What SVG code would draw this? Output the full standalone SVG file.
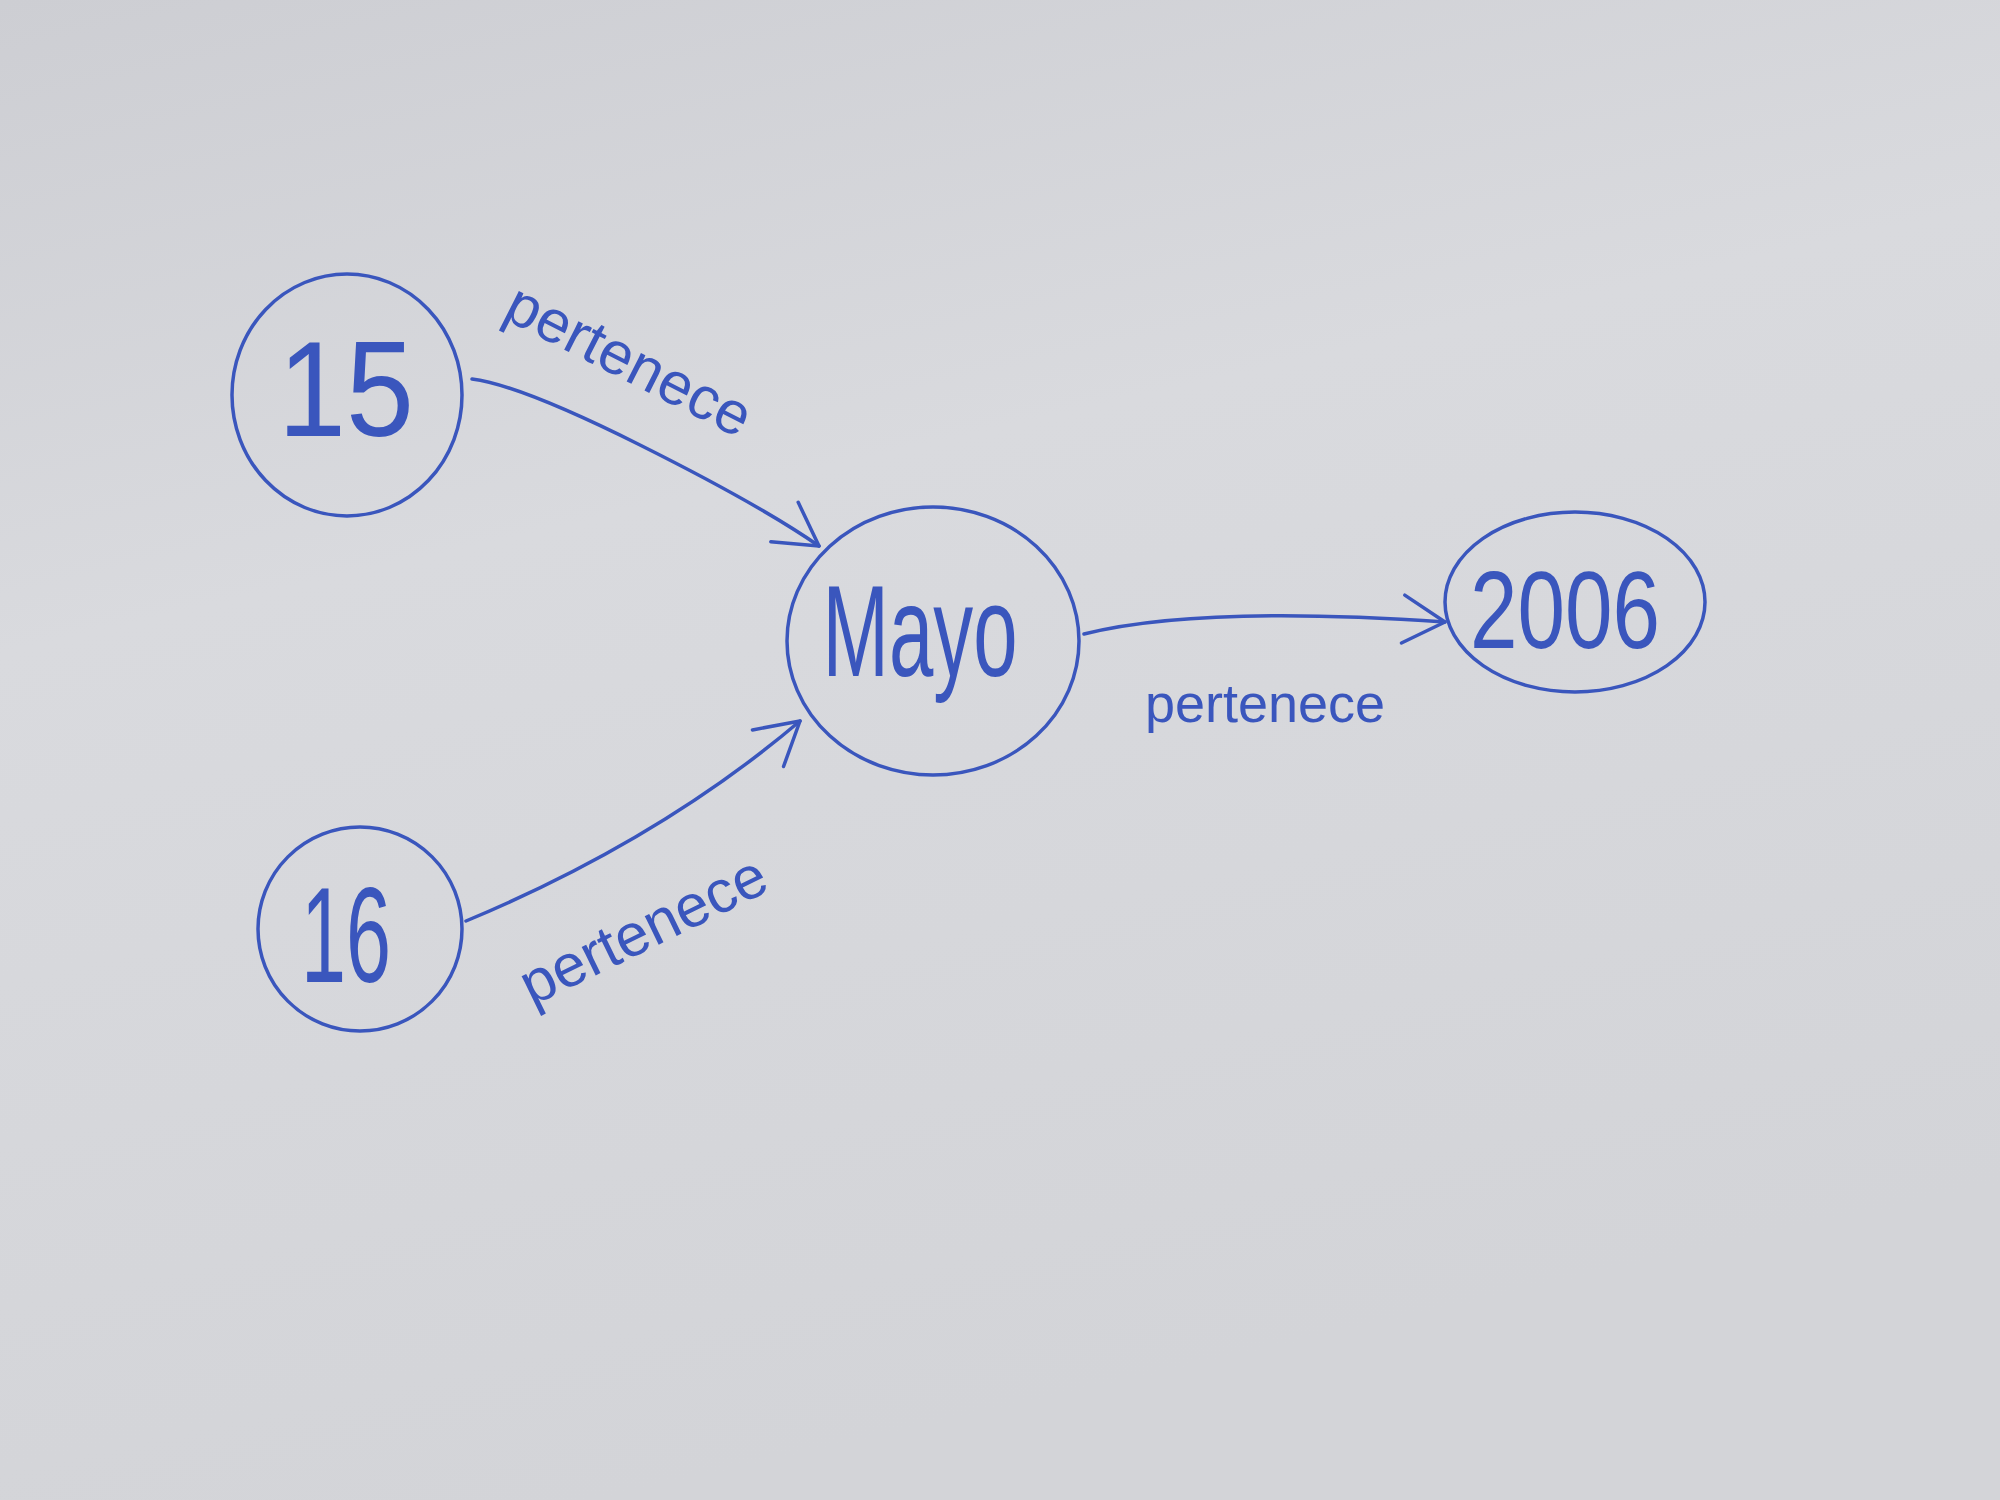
<svg xmlns="http://www.w3.org/2000/svg" width="2000" height="1500" viewBox="0 0 2000 1500">
  <defs>
    <linearGradient id="paper" x1="0" y1="0" x2="0.3" y2="1">
      <stop offset="0" stop-color="#cdced3"/>
      <stop offset="0.4" stop-color="#d9dade"/>
      <stop offset="1" stop-color="#d3d4d8"/>
    </linearGradient>
    <marker id="arrow" viewBox="-30 -20 50 60" refX="18" refY="10" markerWidth="50" markerHeight="60" markerUnits="userSpaceOnUse" orient="auto" overflow="visible">
      <path d="M -24 -14 L 18 10 L -24 34" fill="none" stroke="#3a56bd" stroke-width="3.5" stroke-linecap="round" stroke-linejoin="round"/>
    </marker>
    <style>
      .node { fill: none; stroke: #3a56bd; stroke-width: 3.5; }
      .edge { fill: none; stroke: #3a56bd; stroke-width: 3.5; stroke-linecap: round; marker-end: url(#arrow); }
      .lbl { font-family: "Liberation Sans", Arial, sans-serif; fill: #3a56bd; text-anchor: middle; }
      .elbl { font-family: "Liberation Sans", Arial, sans-serif; fill: #3a56bd; font-size: 60px; text-anchor: middle; }
    </style>
  </defs>
  <rect x="0" y="0" width="2000" height="1500" fill="url(#paper)"/>

  <g id="connectors">
    <path class="edge" d="M 472 379 Q 520 385 640 445 T 819 546"/>
    <path class="edge" d="M 466 921 Q 660 840 800 721"/>
    <path class="edge" d="M 1084 634 Q 1200 605 1445 622"/>
    <text class="elbl" transform="translate(620 378) rotate(27)">pertenece</text>
    <text class="elbl" transform="translate(652 948) rotate(-26)">pertenece</text>
    <text class="elbl" x="1265" y="722" style="font-size:54px">pertenece</text>
  </g>

  <g id="n15">
    <ellipse class="node" cx="347" cy="395" rx="115" ry="121"/>
    <text class="lbl" x="346" y="436" font-size="135" textLength="136" lengthAdjust="spacingAndGlyphs">15</text>
  </g>
  <g id="nMayo">
    <ellipse class="node" cx="933" cy="641" rx="146" ry="134"/>
    <text class="lbl" x="920" y="676" font-size="130" textLength="195" lengthAdjust="spacingAndGlyphs">Mayo</text>
  </g>
  <g id="n2006">
    <ellipse class="node" cx="1575" cy="602" rx="130" ry="90"/>
    <text class="lbl" x="1565" y="648" font-size="110" textLength="190" lengthAdjust="spacingAndGlyphs">2006</text>
  </g>
  <g id="n16">
    <ellipse class="node" cx="360" cy="929" rx="102" ry="102"/>
    <text class="lbl" x="346" y="982" font-size="135" textLength="90" lengthAdjust="spacingAndGlyphs">16</text>
  </g>
</svg>
